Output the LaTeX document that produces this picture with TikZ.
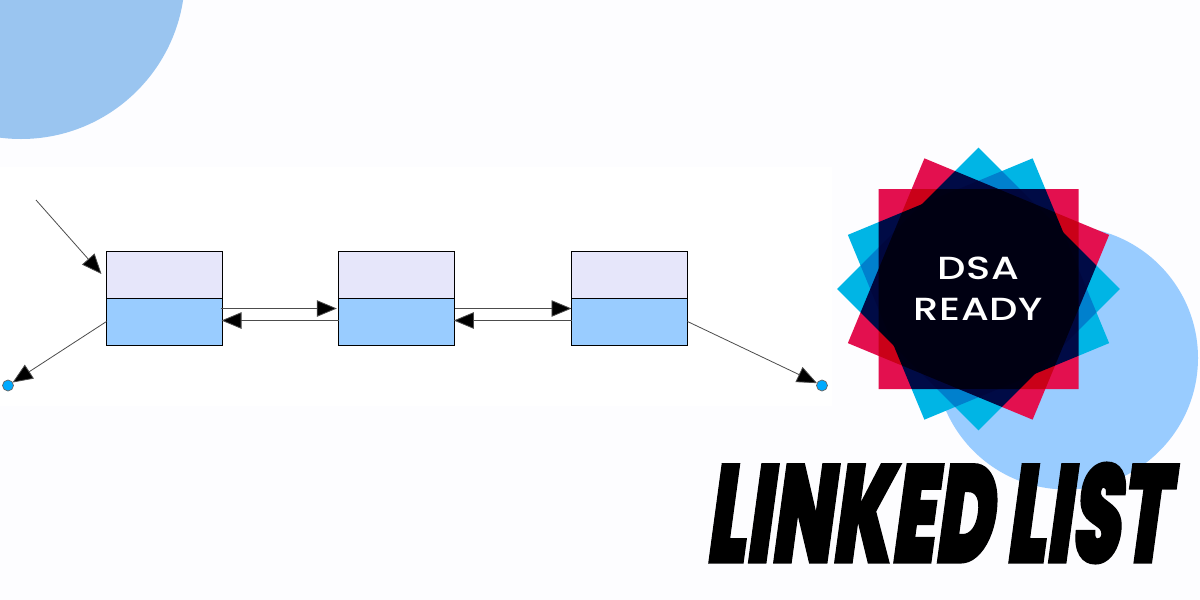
\documentclass[tikz,border=0pt]{standalone}
\usepackage{fontspec}
\usepackage{graphicx}
\usetikzlibrary{arrows.meta,positioning}
\newfontfamily\titlefont[FakeSlant=0.24,FakeBold=1.5]{Poppins Black}
\newfontfamily\logofont[LetterSpace=1.5]{Poppins Medium}
\definecolor{bgc}{HTML}{FDFDFF}
\definecolor{cornerc}{HTML}{9AC5F0}
\definecolor{circc}{HTML}{99CCFF}
\definecolor{lav}{HTML}{E6E6FA}
\definecolor{lightb}{HTML}{99CCFF}
\definecolor{redq}{HTML}{E3104F}
\definecolor{cyanq}{HTML}{00B5E5}
\definecolor{dotc}{HTML}{00AAFF}
\tikzset{
  cell/.style={draw=black,line width=0.7pt,minimum width=116pt,minimum height=47pt,inner sep=0pt,outer sep=0pt},
  topcell/.style={cell,fill=lav},
  botcell/.style={cell,fill=lightb},
  link/.style={draw=black!70,line width=0.8pt,-{Triangle[length=20pt,width=16.5pt,fill=black]}},
  enddot/.style={circle,draw=black!60,line width=0.7pt,fill=dotc,minimum size=11pt,inner sep=0pt,outer sep=0pt},
  redsq/.style={fill=redq,blend mode=multiply},
  cyansq/.style={fill=cyanq,blend mode=multiply}
}
\begin{document}
\begin{tikzpicture}[x=1pt,y=-1pt]
\useasboundingbox (0,0) rectangle (1200,600);
\fill[bgc] (0,0) rectangle (1200,600);
\fill[white] (0,167) rectangle (832,406);
\fill[cornerc] (21,-25) circle[radius=164];
\fill[circc] (1066.5,358) circle[radius=131.5];
% list
\node[topcell] (t1) at (164.5,274.5) {};
\node[botcell] (b1) at (164.5,321.5) {};
\node[topcell] (t2) at (396.8,274.5) {};
\node[botcell] (b2) at (396.8,321.5) {};
\node[topcell] (t3) at (629.5,274.5) {};
\node[botcell] (b3) at (629.5,321.5) {};
\node[enddot] (d1) at (8,385.5) {};
\node[enddot] (d2) at (822,385.5) {};
\coordinate (head) at (36,200);
\draw[link] (head) -- ([xshift=-5pt,yshift=24pt]b1.north west);
\draw[link] (b1.west) -- (d1);
\draw[link] (b3.east) -- (d2);
\draw[link] ([xshift=-2pt,yshift=13pt]b1.east) -- ([xshift=-2pt,yshift=13pt]b2.west);
\draw[link] ([yshift=1pt]b2.west) -- ([xshift=-1pt,yshift=1pt]b1.east);
\draw[link] ([yshift=13pt]b2.east) -- ([yshift=13pt]b3.west);
\draw[link] ([yshift=1pt]b3.west) -- ([xshift=-1pt,yshift=1pt]b2.east);
% logo
\begin{scope}[transparency group,shift={(978.5,289)},x=1pt,y=1pt]
  \fill[redsq] (-100,-100) rectangle (100,100);
  \fill[redsq,rotate=-22.5] (-100,-100) rectangle (100,100);
  \fill[cyansq,rotate=45] (-100,-100) rectangle (100,100);
  \fill[cyansq,rotate=22.5] (-100,-100) rectangle (100,100);
\end{scope}
\node[text=white,inner sep=0pt] (logo) at (978.5,292) {\scalebox{1.25}[1]{\logofont\fontsize{32}{41}\selectfont\begin{tabular}{@{}c@{}}DSA\\[-0.5pt]READY\end{tabular}}};
\node[inner sep=0pt,text=black] (title) at (936,513) {\resizebox{462pt}{100pt}{\titlefont LINKED LIST}};
\end{tikzpicture}
\end{document}
